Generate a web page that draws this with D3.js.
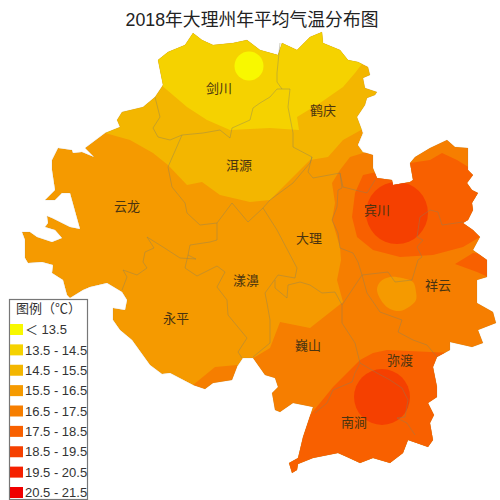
<!DOCTYPE html>
<html><head><meta charset="utf-8">
<script src="https://cdn.jsdelivr.net/npm/d3@7/dist/d3.min.js"></script>
<style>html,body{margin:0;padding:0;background:#fff}svg{display:block}</style>
</head><body><div id="chart"></div>
<script>
const titleText = "2018年大理州年平均气温分布图";
const legendTitle = "图例（℃）";
const legendLabels = ["＜ 13.5","13.5 - 14.5","14.5 - 15.5","15.5 - 16.5","16.5 - 17.5","17.5 - 18.5","18.5 - 19.5","19.5 - 20.5","20.5 - 21.5"];
const classColors = ["#f8f800","#f5d200","#f3b600","#f59a00","#f67e00","#f86000","#f54000","#f52000","#f00000"];

// Map units: a 0-500 grid over the prefecture
const outline = [[158,60],[168,52],[185,45],[193,33],[202,40],[213,45],[233,43],[247,40],[260,50],[278,55],[282,43],[297,50],[310,37],[322,32],[323,43],[340,50],[348,60],[358,62],[368,67],[370,75],[363,78],[365,88],[377,92],[375,95],[367,98],[365,105],[357,117],[363,133],[358,145],[363,152],[373,155],[373,168],[377,178],[392,180],[393,185],[410,182],[413,180],[410,163],[415,157],[430,148],[447,140],[455,147],[468,148],[468,170],[473,175],[467,183],[472,190],[478,193],[472,203],[473,210],[468,220],[463,223],[473,230],[480,237],[473,250],[487,260],[487,277],[477,280],[477,303],[493,312],[496,323],[478,330],[483,343],[472,347],[450,342],[450,350],[437,357],[433,367],[437,387],[437,397],[428,403],[434,415],[430,423],[433,440],[428,447],[408,440],[403,453],[390,463],[373,458],[360,463],[347,457],[338,453],[313,458],[298,464],[297,470],[292,473],[289,463],[298,458],[303,437],[313,407],[293,403],[280,412],[275,410],[272,393],[278,387],[275,378],[265,375],[253,358],[243,358],[237,367],[232,380],[213,383],[205,389],[193,385],[170,373],[162,374],[150,365],[132,340],[120,330],[113,320],[113,308],[125,310],[127,300],[122,292],[107,283],[90,287],[83,290],[70,298],[67,295],[63,280],[52,273],[53,265],[42,262],[28,263],[25,258],[25,240],[22,232],[30,232],[37,237],[52,242],[62,238],[55,230],[45,227],[48,223],[47,216],[52,218],[70,227],[80,229],[70,193],[62,193],[55,200],[45,200],[55,190],[52,170],[52,160],[58,148],[72,150],[73,153],[82,152],[94,157],[85,148],[105,133],[120,127],[117,120],[122,112],[143,107],[155,97],[163,85]];

const zone145 = [[100,128],[105,133],[130,140],[153,153],[168,165],[187,185],[202,182],[220,195],[250,202],[270,200],[287,183],[310,160],[328,157],[343,140],[370,125],[400,20],[100,20]];
const zone135 = [[160,84],[187,107],[207,120],[230,130],[270,128],[299,130],[297,117],[320,103],[343,87],[355,73],[365,60],[350,20],[150,20]];
const zone165a = [[373,150],[350,157],[340,170],[332,183],[335,203],[332,220],[340,247],[341,260],[337,280],[343,302],[310,328],[280,322],[270,348],[250,360],[250,480],[498,480],[498,130],[373,130]];
const zone165b = [[237,365],[215,367],[193,385],[205,400],[240,400]];
const zone155Island = [[377,290],[380,282],[390,277],[402,278],[413,282],[416,292],[416,300],[409,307],[400,311],[390,309],[383,303]];
const zone175a = [[480,237],[463,247],[433,255],[400,257],[373,250],[357,237],[352,217],[355,193],[363,175],[372,173],[395,170],[410,163],[430,160],[442,153],[457,160],[470,168],[495,180],[495,237]];
const zone175b = [[455,264],[473,253],[495,255],[495,280],[477,272]];
const zone175c = [[452,353],[387,350],[373,353],[360,360],[347,373],[333,387],[320,403],[310,415],[295,440],[280,480],[440,480],[470,400],[470,353]];
const hotCircles = [[397,213,31,18.5],[382,397,28,18.5]];
const coolCircles = [[249,66,14.5,13]];

const countyBorders = [
 [[155,97],[160,117],[153,128],[158,137],[170,140],[182,135],[203,133],[220,130],[230,138],[232,128],[250,120],[253,108],[260,103],[270,97],[277,89],[282,89]],
 [[280,43],[277,73],[277,82],[282,89],[290,89],[288,107],[293,133],[293,147],[312,157],[308,172],[313,178],[340,173],[343,187],[367,193],[375,180]],
 [[182,135],[168,167],[172,187],[185,203],[187,213],[200,225],[217,223],[232,203],[248,222],[263,208],[270,200],[293,183],[310,163],[312,157]],
 [[217,223],[217,240],[210,242],[190,245],[188,255],[196,259],[180,258],[163,247],[147,237],[154,248],[145,252],[143,262],[147,268],[137,275],[123,270],[127,277],[122,290]],
 [[188,255],[185,268],[197,276],[217,266],[225,272],[217,287],[227,300],[228,315],[247,338],[238,352],[242,358]],
 [[263,208],[277,230],[297,268],[295,278],[278,275],[265,293],[267,303],[270,320],[270,343],[253,357]],
 [[275,280],[275,288],[287,298],[288,285],[300,282],[310,285],[322,293],[335,292],[342,305]],
 [[340,173],[342,188],[338,190],[337,207],[332,220],[338,233],[340,248],[353,253],[358,262],[362,275],[342,305],[342,323],[355,343],[360,363],[377,373],[390,380],[402,388],[408,400],[405,417],[397,418],[407,423],[415,435]],
 [[360,363],[355,373],[352,382],[333,390],[327,403],[315,413]],
 [[362,275],[388,272],[395,282],[412,280],[418,260],[422,257],[417,247],[423,240],[417,237],[420,217],[430,210],[438,212],[442,225],[463,222]],
 [[362,275],[367,293],[380,312],[402,320],[398,332],[413,340],[427,345],[437,357]]
];

const countyNames = ["剑川","鹤庆","洱源","云龙","大理","漾濞","永平","巍山","宾川","祥云","弥渡","南涧"];
const countyX = [219,323,239,127,309,246,176,308,377,438,400,354];
const countyY = [88,110,165,206,238,280,318,345,210,285,360,422];

const W = 500, H = 500;
const x = d3.scaleLinear().domain([0,500]).range([0,W]);
const y = d3.scaleLinear().domain([0,500]).range([0,H]);
const color = d3.scaleThreshold().domain([13.5,14.5,15.5,16.5,17.5,18.5,19.5,20.5]).range(classColors);
const line = d3.line().x(d=>x(d[0])).y(d=>y(d[1]));
const closed = pts => line(pts)+"Z";
const blob = d3.line().x(d=>x(d[0])).y(d=>y(d[1])).curve(d3.curveCatmullRomClosed);

const svg = d3.select("#chart").append("svg").attr("width",W).attr("height",H).attr("viewBox",[0,0,W,H]);
svg.append("clipPath").attr("id","pref").append("path").attr("d",closed(outline));

const map = svg.append("g").attr("clip-path","url(#pref)");
map.append("path").attr("d",closed(outline)).attr("fill",color(16));
const layers = [[zone145,15],[zone135,14],[zone165a,17],[zone165b,17],[zone175a,18],[zone175b,18],[zone175c,18]];
map.selectAll("path.zone").data(layers).join("path").attr("class","zone")
  .attr("d",d=>closed(d[0])).attr("fill",d=>color(d[1]));
map.append("path").attr("d",blob(zone155Island)).attr("fill",color(16));
map.selectAll("circle").data(hotCircles.concat(coolCircles)).join("circle")
  .attr("cx",d=>x(d[0])).attr("cy",d=>y(d[1])).attr("r",d=>x(d[2])).attr("fill",d=>color(d[3]));

svg.append("g").selectAll("path").data(countyBorders).join("path")
  .attr("d",line).attr("fill","none").attr("stroke","#85805f").attr("stroke-opacity",0.5).attr("stroke-width",0.8).attr("stroke-linejoin","round");
svg.append("path").attr("d",closed(outline)).attr("fill","none").attr("stroke","#8a7a50").attr("stroke-opacity",0.25).attr("stroke-width",0.5);

svg.append("g").selectAll("text").data(countyNames).join("text")
  .attr("x",(d,i)=>x(countyX[i])).attr("y",(d,i)=>y(countyY[i])).attr("dy","0.36em")
  .attr("text-anchor","middle").attr("font-family","'Noto Sans CJK SC'").attr("font-size",13)
  .attr("fill","#4a3410").text(d=>d);

svg.append("text").attr("x",x(252)).attr("y",y(20)).attr("dy","0.36em").attr("text-anchor","middle")
  .attr("font-family","'Liberation Sans','Noto Sans CJK SC'").attr("font-size",17.8).attr("fill","#222").text(titleText);

const lg = svg.append("g");
lg.append("rect").attr("x",9.5).attr("y",299.5).attr("width",78).attr("height",200).attr("fill","#fff").attr("stroke","#777").attr("stroke-width",1.2);
lg.append("text").attr("x",16).attr("y",308).attr("dy","0.36em").attr("font-family","'Noto Sans CJK SC'").attr("font-size",13).attr("fill","#333").text(legendTitle);
const rowY = d3.scaleLinear().domain([0,8]).range([329.5,492.5]);
const row = lg.selectAll("g.row").data(legendLabels).join("g").attr("class","row");
row.append("rect").attr("x",10).attr("y",(d,i)=>rowY(i)-5.5).attr("width",13).attr("height",11).attr("fill",(d,i)=>classColors[i]);
row.append("text").attr("x",25).attr("y",(d,i)=>rowY(i)).attr("dy","0.36em")
  .attr("font-family","'Liberation Sans','Noto Sans CJK SC'").attr("font-size",13).attr("fill","#333").text(d=>d);
</script></body></html>
